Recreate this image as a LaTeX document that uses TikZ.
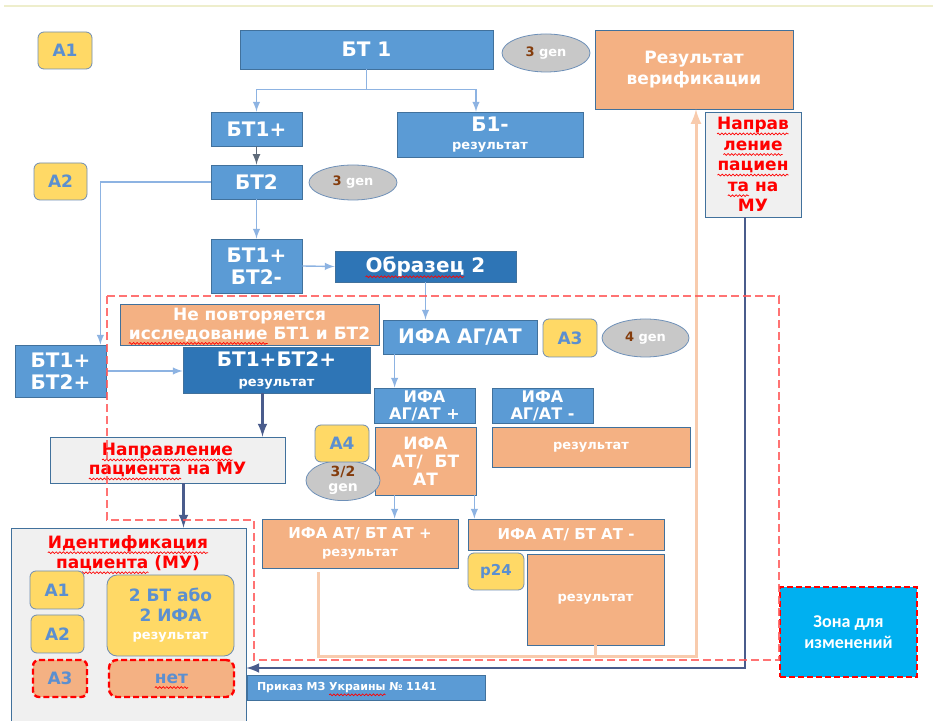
\documentclass[tikz,border=0pt]{standalone}
\usepackage{fontspec}
\setmainfont{DejaVu Sans}
\newfontfamily\calib{Carlito}
\usepackage{xcolor}
\usetikzlibrary{shapes.geometric}
\usetikzlibrary{decorations.pathmorphing}

\definecolor{bluebox}{HTML}{5B9BD5}
\definecolor{blueedge}{HTML}{41719C}
\definecolor{darkbox}{HTML}{2E75B6}
\definecolor{orangebox}{HTML}{F4B183}
\definecolor{yelbox}{HTML}{FFD966}
\definecolor{yeledge}{HTML}{6F8DB3}
\definecolor{labelblue}{HTML}{5B8FD0}
\definecolor{genbox}{HTML}{C8C8C8}
\definecolor{genedge}{HTML}{6E90B8}
\definecolor{genbrown}{HTML}{843C0C}
\definecolor{msgbox}{HTML}{F0F0F0}
\definecolor{linkblue}{HTML}{8DB3E2}
\definecolor{dkline}{HTML}{4A5C8C}
\definecolor{grayarrow}{HTML}{5F6B7A}
\definecolor{peach}{HTML}{F8CBAD}
\definecolor{zone}{HTML}{00B0F0}
\definecolor{dashred}{HTML}{FF5B5B}
\definecolor{topline}{HTML}{EEEECC}

\newsavebox\splbox
\newcommand\spl[1]{\leavevmode\sbox\splbox{#1}\rlap{\tikz[overlay,baseline=0pt]\draw[draw=red, line width=0.35pt, solid, sharp corners, fill=none, opacity=1, decorate, decoration={snake, amplitude=0.45pt, segment length=1.8pt}] (0pt,-2.2pt) -- (\wd\splbox,-2.2pt);}\usebox\splbox}

\begin{document}
\begin{tikzpicture}[x=0.5pt,y=-0.5pt,
    blu/.style={draw=blueedge, fill=bluebox, text=white, inner sep=1pt, align=center,
      font=\fontsize{10}{11}\selectfont\bfseries},
    dblu/.style={blu, fill=darkbox},
    ora/.style={blu, fill=orangebox, font=\fontsize{8.5}{10}\selectfont\bfseries},
    yel/.style={draw=yeledge, fill=yelbox, rounded corners=3pt, text=labelblue, inner sep=1pt,
      align=center, minimum width=27pt, minimum height=18.5pt,
      font=\fontsize{8.5}{10}\selectfont\bfseries},
    nochg/.style={draw=red, dash pattern=on 3pt off 1.5pt, line width=1.2pt},
    gen/.style={ellipse, draw=genedge, fill=genbox, text=white, inner sep=0pt, align=center,
      font=\fontsize{6.5}{7}\selectfont\bfseries},
    msg/.style={draw=blueedge, fill=msgbox, text=red, inner sep=1pt, align=center,
      font=\fontsize{8.5}{10}\selectfont\bfseries},
    lnk/.style={-latex, draw=linkblue, line width=0.7pt},
    dk/.style={-latex, draw=dkline, line width=1.2pt},
    back/.style={draw=peach, line width=1.5pt}
  ]
    \useasboundingbox (0,0) rectangle (933,721);
    \draw[draw=topline, line width=0.6pt] (4,6) -- (933,6);

    % top row
    \node[yel] (a1top) at (65,50.5) {A1};
    \node[blu, minimum width=126.5pt, minimum height=19.5pt] (bt1) at (366.5,49.5) {БТ 1};
    \node[gen, minimum width=44pt, minimum height=19pt] (gen1) at (546,53) {\textcolor{genbrown}{3} gen};
    \node[ora, minimum width=99pt, minimum height=39.5pt, font=\fontsize{8.5}{10.5}\selectfont\bfseries] (verif) at (694,69.5) {Результат\\верификации};

    \node[blu, minimum width=45.5pt, minimum height=17pt] (bt1p) at (256.5,129) {БТ1+};
    \node[blu, minimum width=93pt, minimum height=22.5pt] (b1m) at (490,134.5) {Б1-\\[-2pt]{\fontsize{6.5}{7}\selectfont результат}};
    \node[blu, minimum width=45.5pt, minimum height=17pt] (bt2) at (256.5,182) {БТ2};
    \node[gen, minimum width=44pt, minimum height=17.5pt] (gen2) at (353,182.5) {\textcolor{genbrown}{3} gen};
    \node[yel, minimum width=26.5pt] (a2top) at (60.5,181.5) {A2};
    \node[msg, minimum width=48pt, minimum height=52.5pt, font=\fontsize{8.5}{10.3}\selectfont\bfseries] (napr2) at (753,164.5) {\spl{Направ}\\\spl{ление}\\\spl{пациен}\\\spl{та} на\\МУ};

    \node[blu, minimum width=45.5pt, minimum height=27pt, font=\fontsize{10}{11}\selectfont\bfseries] (bt1pbt2m) at (256.5,266) {БТ1+\\БТ2-};
    \node[dblu, minimum width=90.5pt, minimum height=15.5pt] (obr2) at (425.5,266.5) {\spl{Образец} 2};

    % inside the red zone
    \node[ora, minimum width=129.5pt, minimum height=20.5pt, font=\fontsize{8.5}{9.5}\selectfont\bfseries] (nopovt) at (249.5,324.5) {Не повторяется\\\spl{исследование} БТ1 и БТ2};
    \node[blu, minimum width=77pt, minimum height=17pt] (ifa) at (460,337) {ИФА АГ/АТ};
    \node[yel, minimum height=19pt] (a3top) at (570,338) {A3};
    \node[gen, minimum width=43.5pt, minimum height=19pt] (gen3) at (645.5,338) {\textcolor{genbrown}{4} gen};
    \node[blu, minimum width=45.5pt, minimum height=26pt, font=\fontsize{10}{11}\selectfont\bfseries] (bt12p) at (60.5,371) {БТ1+\\БТ2+};
    \node[dblu, minimum width=93.5pt, minimum height=23pt] (bt12pres) at (276.5,370) {БТ1+БТ2+\\[-1pt]{\fontsize{6.5}{7}\selectfont результат}};
    \node[blu, minimum width=50.5pt, minimum height=17.5pt, font=\fontsize{8}{8.5}\selectfont\bfseries] (ifap) at (424.5,405.5) {ИФА\\АГ/АТ +};
    \node[blu, minimum width=50.5pt, minimum height=17.5pt, font=\fontsize{8}{8.5}\selectfont\bfseries] (ifam) at (542.5,405.5) {ИФА\\АГ/АТ -};
    \node[ora, minimum width=99pt, minimum height=20pt, font=\fontsize{6.5}{7}\selectfont\bfseries] (resm) at (591,447) {результат};
    \node[ora, minimum width=50.5pt, minimum height=34pt, font=\fontsize{8.5}{9}\selectfont\bfseries] (ifaat) at (425.5,461) {ИФА\\АТ/~~БТ\\АТ};
    \node[gen, minimum width=37pt, minimum height=18.5pt, font=\fontsize{7}{7.5}\selectfont\bfseries] (gen4) at (343,480.5) {\textcolor{genbrown}{3/2}\\gen};
    \node[yel] (a4) at (342,443.5) {A4};
    \node[msg, minimum width=117.5pt, minimum height=23pt, font=\fontsize{8.5}{9.5}\selectfont\bfseries] (naprmu) at (167.5,460) {\spl{Направление}\\\spl{пациента} на МУ};

    \node[ora, minimum width=98pt, minimum height=24.5pt, font=\fontsize{7.5}{8}\selectfont\bfseries] (ifaatp) at (360,543.5) {ИФА АТ/ БТ АТ +\\[1pt]{\fontsize{6.5}{7}\selectfont результат}};
    \node[ora, minimum width=98pt, minimum height=15.5pt, font=\fontsize{7.5}{8}\selectfont\bfseries] (ifaatm) at (566,534.5) {ИФА АТ/ БТ АТ -};
    \node[yel, minimum width=28pt, font=\fontsize{7.5}{8}\selectfont\bfseries] (p24) at (496,571.5) {p24};
    \node[ora, minimum width=68.5pt, minimum height=45.5pt, font=\fontsize{6.5}{7}\selectfont\bfseries] (resbig) at (595.5,599.5) {результат};

    % identification block
    \node[msg, minimum width=117.5pt, minimum height=97pt] (ident) at (128.5,625) {};
    \node[text=red, font=\fontsize{8.5}{10}\selectfont\bfseries, align=center] (identt) at (128,553) {\spl{Идентификация}\\\spl{пациента} (МУ)};
    \node[yel, minimum height=19pt] (a1in) at (57,590) {A1};
    \node[yel, minimum width=26.5pt, minimum height=19pt] (a2in) at (57.5,634) {A2};
    \node[yel, fill=orangebox, nochg] (a3in) at (60,678.5) {A3};
    \node[yel, minimum width=63.5pt, minimum height=40.5pt, rounded corners=5pt] (twobt) at (170.5,615.5) {2 БТ або\\2 ИФА\\[-1pt]{\color{white}\fontsize{6.5}{7}\selectfont результат}};
    \node[yel, fill=orangebox, nochg, minimum width=62.5pt, rounded corners=4pt] (net) at (171.5,678.5) {\spl{нет}};

    \node[blu, text width=109pt, inner xsep=5pt, minimum height=12.5pt, align=left, font=\fontsize{5.5}{6}\selectfont\bfseries] (prikaz) at (366,687.5) {Приказ МЗ \spl{Украины} № 1141};
    \node[fill=zone, nochg, text=white, minimum width=68.5pt, minimum height=45pt, align=center, font=\calib\fontsize{9}{10.5}\selectfont\bfseries] (zona) at (848.5,632) {Зона для\\изменений};

    % connectors
    \draw[lnk] (bt1.south) -- ++(0,20) coordinate (fork) -| (bt1p.north);
    \draw[lnk] (fork) -| ([xshift=-7pt]b1m.north);
    \draw[-latex, draw=grayarrow, line width=0.8pt] (bt1p.south) -- (bt2.north);
    \draw[lnk] (bt2.west) -| ([xshift=-3pt]bt12p.north east);
    \draw[lnk] (bt2.south) -- (bt1pbt2m.north);
    \draw[lnk] (bt1pbt2m.east) -- (obr2.west);
    \draw[lnk] (obr2.south) -- (obr2.south |- ifa.north);
    \coordinate (fromifa) at ([xshift=6pt]ifa.south west);
    \draw[lnk] (fromifa) -- (fromifa |- ifap.north);
    \draw[lnk] (bt12p.east) -- (bt12p.east -| bt12pres.west);
    \coordinate (frompos) at ([xshift=-7pt]bt12pres.south);
    \draw[dk] (frompos) -- (frompos |- naprmu.north);
    \coordinate (frommu) at ([xshift=8pt]naprmu.south);
    \draw[dk] (frommu) -- (frommu |- ident.north);
    \coordinate (atplus) at ([xshift=10pt]ifaat.south west);
    \draw[lnk] (atplus) -- (atplus |- ifaatp.north);
    \coordinate (atminus) at ([xshift=-1pt]ifaat.south east);
    \draw[lnk] (atminus) -- (atminus |- ifaatm.north);

    \coordinate (atres) at ([xshift=-21pt,yshift=-2pt]ifaatp.south);
    \draw[back, -latex] (atres) |- (696,657) coordinate (bend) -- (bend |- verif.south);
    \draw[back] (resbig.south) -- (resbig.south |- bend);
    \coordinate (fromnp) at ([xshift=-4pt]napr2.south);
    \draw[dk] (fromnp) |- (ident.east |- 0,668);

    % zone of the order
    \draw[draw=dashred, line width=1pt, dash pattern=on 4pt off 2pt, opacity=0.85]
      (107,296) -- (779,296) -- (779,660) -- (254,660) -- (254,520) -- (107,520) -- cycle;
\end{tikzpicture}
\end{document}
